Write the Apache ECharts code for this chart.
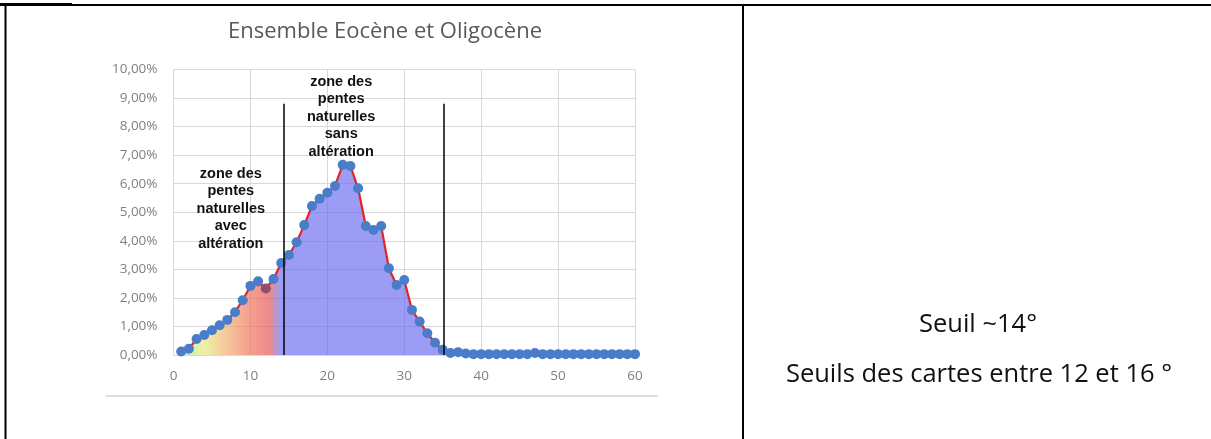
<!DOCTYPE html>
<html>
<head>
<meta charset="utf-8">
<script src="https://cdn.jsdelivr.net/npm/echarts@6/dist/echarts.min.js"></script>
<style>
  html, body { margin: 0; padding: 0; background: #fff; }
  #chart { width: 1211px; height: 439px; }
</style>
</head>
<body>
<div id="chart"></div>
<script>
// Slope classes (degrees) and share of surface in each class (%)
const slopeDegrees = [
  1, 2, 3, 4, 5, 6, 7, 8, 9, 10,
  11, 12, 13, 14, 15, 16, 17, 18, 19, 20,
  21, 22, 23, 24, 25, 26, 27, 28, 29, 30,
  31, 32, 33, 34, 35, 36, 37, 38, 39, 40,
  41, 42, 43, 44, 45, 46, 47, 48, 49, 50,
  51, 52, 53, 54, 55, 56, 57, 58, 59, 60
];
const surfaceShare = [
  0.12, 0.22, 0.56, 0.70, 0.87, 1.04, 1.23, 1.50, 1.92, 2.42,
  2.58, 2.33, 2.66, 3.22, 3.50, 3.95, 4.55, 5.22, 5.47, 5.68,
  5.92, 6.66, 6.62, 5.84, 4.52, 4.38, 4.52, 3.04, 2.45, 2.63,
  1.58, 1.17, 0.76, 0.43, 0.18, 0.07, 0.10, 0.05, 0.03, 0.03,
  0.03, 0.03, 0.03, 0.03, 0.03, 0.03, 0.07, 0.03, 0.03, 0.03,
  0.03, 0.03, 0.03, 0.03, 0.03, 0.03, 0.03, 0.03, 0.03, 0.03
];
// Zone boundaries (degrees) and height of the boundary lines (%)
const zoneLimits = [14.3, 35.1];
const zoneLineTop = 8.8;
// Axis ticks
const xTicks = [0, 10, 20, 30, 40, 50, 60];
const yMax = 10;
const yStep = 1;
// Texts
const chartTitle = 'Ensemble Eocène et Oligocène';
const zoneAltered = 'zone des\npentes\nnaturelles\navec\naltération';
const zoneUnaltered = 'zone des\npentes\nnaturelles\nsans\naltération';
const zoneAlteredAt = [7.45, 5.12];
const zoneUnalteredAt = [21.8, 8.34];
const noteLine1 = 'Seuil ~14°';
const noteLine2 = 'Seuils des cartes entre 12 et 16 °';
// the point at 12° shows darker (under the red fill)
const darkPointDegree = 12;

const chart = echarts.init(document.getElementById('chart'), null, { renderer: 'canvas' });

const seriesData = slopeDegrees.map((d, i) => {
  const item = { value: [d, surfaceShare[i]] };
  if (d === darkPointDegree) item.itemStyle = { color: '#8e4f6c' };
  return item;
});

const areaGradient = new echarts.graphic.LinearGradient(0, 0, 1, 0, [
  { offset: 0.0, color: 'rgba(166,225,140,0.65)' },
  { offset: 0.05, color: 'rgba(229,232,121,0.65)' },
  { offset: 0.10, color: 'rgba(241,170,100,0.65)' },
  { offset: 0.15, color: 'rgba(238,109,84,0.65)' },
  { offset: 0.195, color: 'rgba(232,75,75,0.65)' },
  { offset: 0.218, color: 'rgba(103,103,241,0.65)' },
  { offset: 1.0, color: 'rgba(103,103,241,0.65)' }
]);

const labelFont = { fontFamily: 'Open Sans', fontSize: 13.5, color: '#808080' };

chart.setOption({
  animation: false,
  backgroundColor: '#ffffff',
  grid: { left: 173.5, right: 576, top: 69.5, bottom: 84, containLabel: false },
  xAxis: {
    type: 'value',
    min: xTicks[0],
    max: xTicks[xTicks.length - 1],
    interval: xTicks[1] - xTicks[0],
    axisLine: { show: false },
    axisTick: { show: false },
    axisLabel: Object.assign({ margin: 14 }, labelFont),
    splitLine: { show: true, lineStyle: { color: '#d9d9d9', width: 1 } }
  },
  yAxis: {
    type: 'value',
    min: 0,
    max: yMax,
    interval: yStep,
    axisLine: { show: false },
    axisTick: { show: false },
    axisLabel: Object.assign({
      margin: 16,
      formatter: v => v.toFixed(2).replace('.', ',') + '%'
    }, labelFont),
    splitLine: { show: true, lineStyle: { color: '#d9d9d9', width: 1 } }
  },
  series: [{
    type: 'line',
    data: seriesData,
    smooth: false,
    symbol: 'circle',
    symbolSize: 10,
    showSymbol: true,
    itemStyle: { color: '#4a7dc9' },
    lineStyle: { color: '#e32424', width: 2.2 },
    areaStyle: { color: areaGradient, origin: 'start', opacity: 1 },
    markLine: {
      silent: true,
      symbol: 'none',
      label: { show: false },
      lineStyle: { color: '#000', width: 1.5, type: 'solid' },
      data: zoneLimits.map(x => [{ coord: [x, 0] }, { coord: [x, zoneLineTop] }])
    },
    z: 2
  }]
});

function placeGraphics() {
  const pA = chart.convertToPixel({ gridIndex: 0 }, zoneAlteredAt);
  const pU = chart.convertToPixel({ gridIndex: 0 }, zoneUnalteredAt);
  const zoneStyle = {
    fontFamily: 'Liberation Sans, Arial, sans-serif',
    fontWeight: 'bold',
    fontSize: 14.5,
    lineHeight: 17.6,
    fill: '#111',
    textAlign: 'center',
    textVerticalAlign: 'middle'
  };
  const noteStyle = {
    fontFamily: 'Open Sans', fontSize: 25.5, fill: '#111',
    textAlign: 'center', textVerticalAlign: 'middle'
  };
  chart.setOption({
    graphic: [
      // table borders
      { type: 'line', shape: { x1: 0, y1: 4.5, x2: 72, y2: 4.5 }, style: { stroke: '#000', lineWidth: 3 } },
      { type: 'line', shape: { x1: 5, y1: 5, x2: 1211, y2: 5 }, style: { stroke: '#000', lineWidth: 2 } },
      { type: 'line', shape: { x1: 5.5, y1: 4, x2: 5.5, y2: 439 }, style: { stroke: '#000', lineWidth: 2 } },
      { type: 'line', shape: { x1: 743, y1: 4, x2: 743, y2: 439 }, style: { stroke: '#000', lineWidth: 2 } },
      // chart frame bottom edge
      { type: 'line', shape: { x1: 106, y1: 396, x2: 658, y2: 396 }, style: { stroke: '#dcdcdc', lineWidth: 2 } },
      // title
      {
        type: 'text', x: 385, y: 32,
        style: {
          text: chartTitle, fontFamily: 'Open Sans', fontSize: 22, fill: '#595959',
          textAlign: 'center', textVerticalAlign: 'middle'
        }
      },
      // zone annotations
      { type: 'text', x: pA[0], y: pA[1], z: 10, style: Object.assign({ text: zoneAltered }, zoneStyle) },
      { type: 'text', x: pU[0], y: pU[1], z: 10, style: Object.assign({ text: zoneUnaltered }, zoneStyle) },
      // right cell notes
      { type: 'text', x: 978, y: 325, style: Object.assign({ text: noteLine1 }, noteStyle) },
      { type: 'text', x: 979, y: 375, style: Object.assign({ text: noteLine2 }, noteStyle) }
    ]
  });
}
placeGraphics();
</script>
</body>
</html>
